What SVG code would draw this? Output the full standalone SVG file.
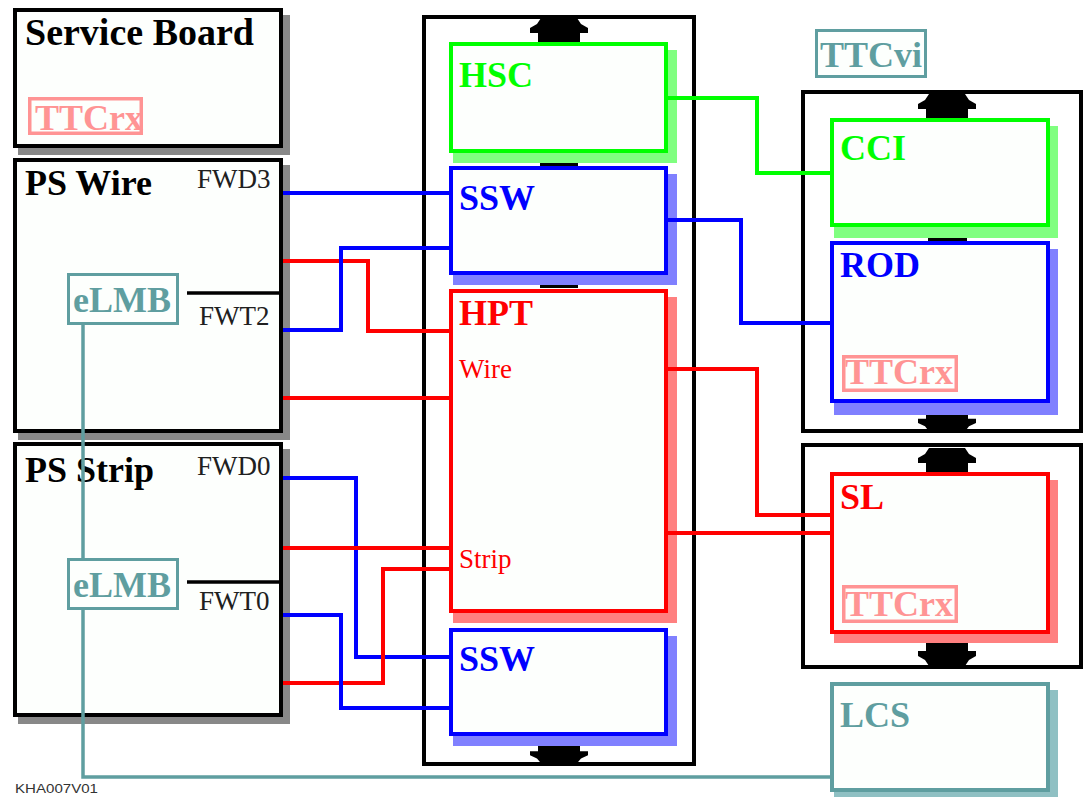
<svg xmlns="http://www.w3.org/2000/svg" width="1085" height="797" viewBox="0 0 1085 797">
<style>
.bg{fill:#fff}
.title{font-family:"Liberation Serif",serif;font-weight:bold;font-size:36px}
.lbl{font-family:"Liberation Serif",serif;font-size:27px}
.box{fill:#fdfffd;stroke-width:4}
.blk{stroke:#000}
.grn{stroke:#00ff00}
.blu{stroke:#0000ff}
.red{stroke:#ff0000}
.tea{stroke:#5f9ea0}
.crate{fill:none;stroke:#000;stroke-width:4}
.pink{fill:none;stroke:#ff9494;stroke-width:3.5}
.conn{fill:none;stroke-width:4}
.ft{fill:#202020}
</style>
<defs>
<path id="arr" d="M-21,0 V-9 H-29 V-14 L-22,-18 L-18,-24 H18 L22,-18 L29,-14 V-9 H21 V0 Z" fill="#000"/>
</defs>
<rect width="1085" height="797" class="bg"/>

<!-- crates -->
<g id="crate-mid">
<rect x="424" y="17" width="270" height="747" class="crate"/>
<use href="#arr" transform="translate(559,42)"/>
<use href="#arr" transform="translate(559,744) scale(1,-0.8)"/>
<rect x="540" y="162" width="38" height="4" fill="#000"/>
<rect x="540" y="284" width="38" height="4" fill="#000"/>
</g>
<g id="crate-right-top">
<rect x="803" y="92" width="278" height="339" class="crate"/>
<use href="#arr" transform="translate(947,118)"/>
<use href="#arr" transform="translate(947,411) scale(1,-0.85)"/>
<rect x="928" y="237" width="39" height="4" fill="#000"/>
</g>
<g id="crate-right-bottom">
<rect x="803" y="445" width="278" height="222" class="crate"/>
<use href="#arr" transform="translate(947,472)"/>
<use href="#arr" transform="translate(947,642) scale(1,-1)"/>
</g>

<!-- left boards -->
<g id="service-board">
<rect x="18" y="15" width="272" height="140" fill="#888"/>
<rect x="15" y="10" width="266" height="136" class="box blk"/>
<text x="25" y="45" class="title" style="font-size:38px">Service Board</text>
<text x="35" y="130" class="title" fill="#ff9494">TTCrx</text>
<rect x="29.75" y="98.75" width="111.5" height="34.5" class="pink"/>
</g>
<g id="ps-wire">
<rect x="18" y="165" width="272" height="275" fill="#888"/>
<rect x="15" y="160" width="266" height="271" class="box blk"/>
<text x="25" y="195" class="title">PS Wire</text>
<text x="197" y="188" class="lbl ft">FWD3</text>
<text x="199" y="325" class="lbl ft">FWT2</text>
<line x1="187" y1="293" x2="283" y2="293" stroke="#000" stroke-width="3.5"/>
</g>
<g id="elmb-wire">
<rect x="68.5" y="274.5" width="109" height="49" fill="#fdfffd" stroke="#5f9ea0" stroke-width="3"/>
<text x="73" y="312" class="title" fill="#5f9ea0">eLMB</text>
</g>
<g id="ps-strip">
<rect x="18" y="449" width="272" height="275" fill="#888"/>
<rect x="15" y="444" width="266" height="271" class="box blk"/>
<text x="25" y="482" class="title">PS Strip</text>
<text x="197" y="475" class="lbl ft">FWD0</text>
<text x="199" y="610" class="lbl ft">FWT0</text>
<line x1="187" y1="582" x2="283" y2="582" stroke="#000" stroke-width="3.5"/>
</g>
<g id="elmb-strip">
<rect x="68.5" y="559.5" width="109" height="49" fill="#fdfffd" stroke="#5f9ea0" stroke-width="3"/>
<text x="73" y="597" class="title" fill="#5f9ea0">eLMB</text>
</g>

<!-- middle modules -->
<g id="hsc">
<rect x="453" y="50" width="224" height="113" fill="#80ff80"/>
<rect x="451" y="44" width="215" height="107" class="box grn"/>
<text x="459" y="87" class="title" fill="#00ff00">HSC</text>
</g>
<g id="ssw-top">
<rect x="453" y="174" width="224" height="111" fill="#8080ff"/>
<rect x="451" y="168" width="215" height="105" class="box blu"/>
<text x="459" y="210" class="title" fill="#0000ff">SSW</text>
</g>
<g id="hpt">
<rect x="453" y="297" width="224" height="326" fill="#ff8080"/>
<rect x="451" y="291" width="215" height="320" class="box red"/>
<text x="459" y="325" class="title" fill="#ff0000">HPT</text>
<text x="459" y="378" class="lbl" fill="#ff0000">Wire</text>
<text x="459" y="568" class="lbl" fill="#ff0000">Strip</text>
</g>
<g id="ssw-bottom">
<rect x="453" y="636" width="224" height="110" fill="#8080ff"/>
<rect x="451" y="630" width="215" height="104" class="box blu"/>
<text x="459" y="671" class="title" fill="#0000ff">SSW</text>
</g>

<!-- right modules -->
<g id="ttcvi">
<rect x="816.5" y="30.5" width="109" height="46" fill="#fdfffd" stroke="#5f9ea0" stroke-width="3"/>
<text x="820" y="67" class="title" fill="#5f9ea0">TTCvi</text>
</g>
<g id="cci">
<rect x="834" y="126" width="224" height="112" fill="#80ff80"/>
<rect x="832" y="120" width="216" height="105" class="box grn"/>
<text x="840" y="160" class="title" fill="#00ff00">CCI</text>
</g>
<g id="rod">
<rect x="834" y="249" width="224" height="166" fill="#8080ff"/>
<rect x="832" y="243" width="216" height="158" class="box blu"/>
<text x="840" y="277" class="title" fill="#0000ff">ROD</text>
<text x="845" y="384" class="title" fill="#ff9494">TTCrx</text>
<rect x="843.75" y="356.75" width="112.5" height="33.5" class="pink"/>
</g>
<g id="sl">
<rect x="834" y="480" width="224" height="163" fill="#ff8080"/>
<rect x="832" y="474" width="216" height="158" class="box red"/>
<text x="840" y="509" class="title" fill="#ff0000">SL</text>
<text x="845" y="616" class="title" fill="#ff9494">TTCrx</text>
<rect x="843.75" y="586.75" width="112.5" height="34.5" class="pink"/>
</g>
<g id="lcs">
<rect x="834" y="690" width="224" height="112" fill="#8fc0c3"/>
<rect x="832" y="684" width="216" height="106" class="box tea"/>
<text x="840" y="727" class="title" fill="#5f9ea0">LCS</text>
</g>

<!-- connectors -->
<g id="connectors" class="conn">
<polyline points="283,193 449,193" stroke="#0000ff"/>
<polyline points="283,261 368,261 368,331 449,331" stroke="#ff0000"/>
<polyline points="283,330 341,330 341,248 449,248" stroke="#0000ff"/>
<polyline points="283,398 449,398" stroke="#ff0000"/>
<polyline points="283,478 356,478 356,657 449,657" stroke="#0000ff"/>
<polyline points="283,548 449,548" stroke="#ff0000"/>
<polyline points="283,683 383,683 383,569 449,569" stroke="#ff0000"/>
<polyline points="283,615 341,615 341,708 449,708" stroke="#0000ff"/>
<polyline points="668,98 757,98 757,173 830,173" stroke="#00ff00"/>
<polyline points="668,220 741,220 741,323 830,323" stroke="#0000ff"/>
<polyline points="668,369 757,369 757,515 830,515" stroke="#ff0000"/>
<polyline points="668,533 830,533" stroke="#ff0000"/>
<polyline points="83,325 83,558" stroke="#5f9ea0" stroke-width="3.5"/>
<polyline points="83,610 83,777 830,777" stroke="#5f9ea0" stroke-width="3.5"/>
</g>
<text x="15" y="793" font-family="Liberation Sans, sans-serif" font-size="13" fill="#333" textLength="83" lengthAdjust="spacingAndGlyphs">KHA007V01</text>
</svg>
